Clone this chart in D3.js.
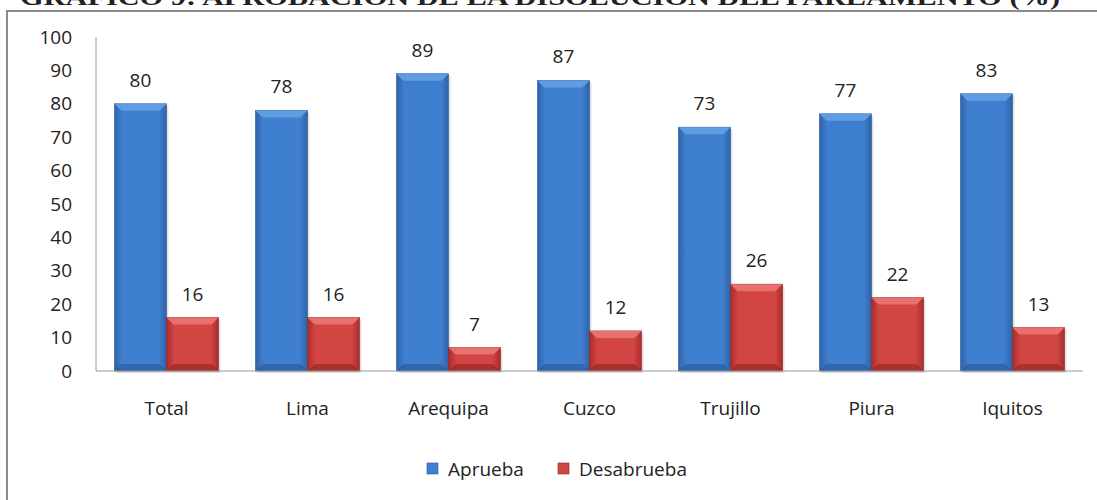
<!DOCTYPE html>
<html>
<head>
<meta charset="utf-8">
<script src="https://cdn.jsdelivr.net/npm/d3@7"></script>
<style>
  body { margin: 0; background: #fff; }
  text { font-family: "Open Sans", "Noto Sans", sans-serif; fill: #222; }
</style>
</head>
<body>
<div id="chart"></div>
<script>
const cities = ["Total", "Lima", "Arequipa", "Cuzco", "Trujillo", "Piura", "Iquitos"];
const aprueba = [80, 78, 89, 87, 73, 77, 83];
const desaprueba = [16, 16, 7, 12, 26, 22, 13];
const seriesNames = ["Aprueba", "Desabrueba"];
const yTicks = [0, 10, 20, 30, 40, 50, 60, 70, 80, 90, 100];

const width = 1097;
const height = 500;

const svg = d3.select('#chart')
    .append('svg')
    .attr('width', width)
    .attr('height', height);

// gradients for the bevelled bars
const defs = svg.append('defs');
const palettes = [
    { id: 'blue', edge: '#2f62a8', mid: '#3f7fcf', top: '#5f9de2', side: '#2b5796' },
    { id: 'red', edge: '#a82d2d', mid: '#d24542', top: '#e8706e', side: '#8e2424' }
];
palettes.forEach(p => {
    const g = defs.append('linearGradient')
        .attr('id', 'grad-' + p.id)
        .attr('x1', 0).attr('x2', 1).attr('y1', 0).attr('y2', 0);
    g.append('stop').attr('offset', '0%').attr('stop-color', p.edge);
    g.append('stop').attr('offset', '15%').attr('stop-color', p.mid);
    g.append('stop').attr('offset', '85%').attr('stop-color', p.mid);
    g.append('stop').attr('offset', '100%').attr('stop-color', p.edge);
});

// title (cut off at the top, as in the source)
svg.append('text')
    .attr('x', 20)
    .attr('y', 5)
    .attr('textLength', 1040)
    .attr('lengthAdjust', 'spacingAndGlyphs')
    .style('font-family', '"Liberation Serif", "DejaVu Serif", serif')
    .style('font-weight', 'bold')
    .style('font-size', '24px')
    .text('GRÁFICO 9: APROBACIÓN DE LA DISOLUCIÓN DEL PARLAMENTO (%)');

// outer frame
svg.append('rect')
    .attr('x', 7)
    .attr('y', 11)
    .attr('width', 1100)
    .attr('height', 500)
    .attr('fill', 'none')
    .attr('stroke', '#8c8c8c')
    .attr('stroke-width', 2);

const x0 = d3.scaleBand()
    .domain(cities)
    .range([96, 1083])
    .paddingInner(0.262)
    .paddingOuter(0.131);

const x1 = d3.scaleBand()
    .domain(seriesNames)
    .range([0, x0.bandwidth()]);

const y = d3.scaleLinear()
    .domain([0, 100])
    .range([371, 37]);

// y axis
svg.append('line')
    .attr('x1', 96).attr('x2', 96)
    .attr('y1', y(100)).attr('y2', y(0))
    .attr('stroke', '#9a9a9a');

svg.selectAll('.ytick')
    .data(yTicks)
    .join('text')
    .attr('class', 'ytick')
    .attr('x', 72)
    .attr('y', d => y(d))
    .attr('dy', '0.35em')
    .attr('text-anchor', 'end')
    .style('font-size', '19px')
    .text(d => d);

const data = cities.map((c, i) => ({ city: c, values: [aprueba[i], desaprueba[i]] }));

const groups = svg.selectAll('.city')
    .data(data)
    .join('g')
    .attr('class', 'city')
    .attr('transform', d => `translate(${x0(d.city)},0)`);

const bars = groups.selectAll('.bar')
    .data(d => d.values.map((v, j) => ({ v, j })))
    .join('g')
    .attr('class', 'bar');

const bevel = 7;
// soft shadow
bars.append('rect')
    .attr('x', d => x1(seriesNames[d.j]) + 2)
    .attr('y', d => y(d.v) + 2)
    .attr('width', x1.bandwidth())
    .attr('height', d => y(0) - y(d.v))
    .attr('fill', '#000')
    .attr('opacity', 0.12);

bars.append('rect')
    .attr('x', d => x1(seriesNames[d.j]))
    .attr('y', d => y(d.v))
    .attr('width', x1.bandwidth())
    .attr('height', d => y(0) - y(d.v))
    .attr('fill', d => `url(#grad-${palettes[d.j].id})`)
    .attr('stroke', d => palettes[d.j].side)
    .attr('stroke-width', 0.6);

// top bevel
bars.append('path')
    .attr('d', d => {
        const l = x1(seriesNames[d.j]), r = l + x1.bandwidth(), t = y(d.v);
        return `M${l},${t}L${r},${t}L${r - bevel},${t + bevel}L${l + bevel},${t + bevel}Z`;
    })
    .attr('fill', d => palettes[d.j].top);

// bottom bevel
bars.append('path')
    .attr('d', d => {
        const l = x1(seriesNames[d.j]), r = l + x1.bandwidth(), b = y(0);
        return `M${l},${b}L${r},${b}L${r - bevel},${b - bevel}L${l + bevel},${b - bevel}Z`;
    })
    .attr('fill', d => palettes[d.j].side)
    .attr('opacity', 0.6);

// value labels
bars.append('text')
    .attr('x', d => x1(seriesNames[d.j]) + x1.bandwidth() / 2)
    .attr('y', d => y(d.v) - 17)
    .attr('text-anchor', 'middle')
    .style('font-size', '19px')
    .text(d => d.v);

// x axis
svg.append('line')
    .attr('x1', 96).attr('x2', 1083)
    .attr('y1', y(0)).attr('y2', y(0))
    .attr('stroke', '#9a9a9a');

svg.selectAll('.xlabel')
    .data(cities)
    .join('text')
    .attr('class', 'xlabel')
    .attr('x', d => x0(d) + x0.bandwidth() / 2)
    .attr('y', 415)
    .attr('text-anchor', 'middle')
    .style('font-size', '19px')
    .text(d => d);

// legend
const legendX = [427, 558];
const legend = svg.selectAll('.legend')
    .data(seriesNames)
    .join('g')
    .attr('class', 'legend')
    .attr('transform', (d, i) => `translate(${legendX[i]},463)`);

legend.append('rect')
    .attr('width', 11)
    .attr('height', 11)
    .attr('fill', (d, i) => palettes[i].mid)
    .attr('stroke', (d, i) => palettes[i].side)
    .attr('stroke-width', 0.6);

legend.append('text')
    .attr('x', 21)
    .attr('y', 6)
    .attr('dy', '0.35em')
    .style('font-size', '19px')
    .text(d => d);
</script>
</body>
</html>
